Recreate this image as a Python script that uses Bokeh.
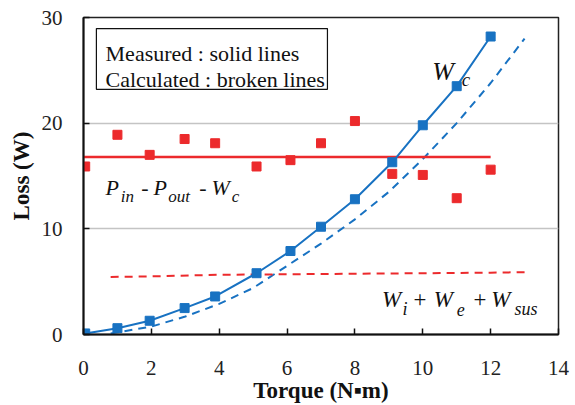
from bokeh.plotting import figure
from bokeh.models import Range1d, FixedTicker, Label, BoxAnnotation
from bokeh.embed import file_html
from bokeh.resources import INLINE

# Torque sweep (N·m)
torque = [0.05, 1.0, 1.95, 2.98, 3.88, 5.1, 6.1, 7.0, 8.0, 9.1, 10.0, 11.0, 12.0]
# Measured copper loss Wc (W)
wc_measured = [0.1, 0.6, 1.3, 2.5, 3.6, 5.8, 7.9, 10.2, 12.8, 16.3, 19.8, 23.5, 28.2]
# Measured Pin - Pout - Wc (W)
residual_measured = [15.9, 18.9, 17.0, 18.5, 18.1, 15.9, 16.5, 18.1, 20.2, 15.2, 15.1, 12.9, 15.6]

# Mean level of the residual loss
residual_mean_x = [0.0, 12.0]
residual_mean_y = [16.8, 16.8]

# Calculated Wc (broken line)
wc_calc_x = [0.8, 1.0, 2.0, 3.0, 4.0, 5.0, 6.0, 7.0, 8.0, 9.0, 10.0, 11.0, 12.0, 13.0]
wc_calc_y = [0.1, 0.2, 0.75, 1.7, 2.9, 4.4, 6.5, 8.6, 10.9, 13.5, 16.6, 20.0, 23.8, 28.0]

# Calculated Wi + We + Wsus (broken line)
iron_calc_x = [0.8, 2.0, 4.0, 6.0, 8.0, 10.0, 12.0, 13.0]
iron_calc_y = [5.45, 5.5, 5.65, 5.7, 5.75, 5.8, 5.85, 5.9]

x_ticks = [0, 2, 4, 6, 8, 10, 12, 14]
y_ticks = [0, 10, 20, 30]

BLUE = "#1872c2"
RED = "#ec2a2c"
SERIF = "'Liberation Serif', 'Times New Roman', 'DejaVu Serif', serif"

p = figure(width=575, height=405, output_backend="svg", toolbar_location=None,
           x_range=Range1d(0, 14), y_range=Range1d(0, 30),
           min_border_left=83, min_border_right=17, min_border_top=17, min_border_bottom=71)

p.background_fill_color = "white"
p.border_fill_color = "white"
p.outline_line_color = "#222222"
p.outline_line_width = 1.5

p.xgrid.visible = False
p.ygrid.grid_line_color = "#c4c4c4"
p.ygrid.grid_line_width = 1.5
p.ygrid.ticker = FixedTicker(ticks=y_ticks)

for ax, ticks in ((p.xaxis, x_ticks), (p.yaxis, y_ticks)):
    ax.ticker = FixedTicker(ticks=ticks)
    ax.axis_line_color = "#111111"
    ax.axis_line_width = 2
    ax.major_tick_line_color = "#111111"
    ax.major_tick_line_width = 1.5
    ax.major_tick_in = 6
    ax.major_tick_out = 0
    ax.minor_tick_line_color = None
    ax.major_label_text_font = SERIF
    ax.major_label_text_font_size = "21px"
    ax.major_label_text_color = "#222222"
    ax.axis_label_text_font = SERIF
    ax.axis_label_text_font_size = "23px"
    ax.axis_label_text_font_style = "bold"
    ax.axis_label_text_color = "#111111"

p.xaxis.axis_label = "Torque (N\u25aam)"
p.yaxis.axis_label = "Loss (W)"
p.xaxis.major_label_standoff = 26
p.xaxis.axis_label_standoff = 0
p.yaxis.major_label_standoff = 21
p.yaxis.axis_label_standoff = 5

# Calculated curves
p.line(wc_calc_x, wc_calc_y, line_color=BLUE, line_width=2, line_dash="8 6")
p.line(iron_calc_x, iron_calc_y, line_color=RED, line_width=2, line_dash="8 6")

# Measured curves
p.line(residual_mean_x, residual_mean_y, line_color=RED, line_width=2.5)
p.scatter(torque, residual_measured, marker="square", size=9, fill_color=RED, line_color=RED)
p.line(torque, wc_measured, line_color=BLUE, line_width=2)
p.scatter(torque, wc_measured, marker="square", size=9, fill_color=BLUE, line_color=BLUE)

# Key box
p.add_layout(BoxAnnotation(left=0.38, right=7.19, bottom=23.2, top=28.95,
                           fill_color="white", fill_alpha=1.0,
                           line_color="#111111", line_alpha=1.0, line_width=1.2))
for txt, yy in (("Measured : solid lines", 26.6), ("Calculated : broken lines", 24.15)):
    p.add_layout(Label(x=0.65, y=yy, text=txt, text_font=SERIF, text_font_size="22px",
                       text_color="#111111", text_baseline="alphabetic"))


def math_label(pieces, base_y, sub_y, size, sub_size):
    for x, txt, is_sub in pieces:
        p.add_layout(Label(x=x, y=sub_y if is_sub else base_y, text=txt,
                           text_font=SERIF, text_font_style="italic",
                           text_font_size=sub_size if is_sub else size,
                           text_color="#111111", text_baseline="alphabetic"))


# W_c
math_label([(10.28, "W", False), (11.15, "c", True)], 24.9, 24.1, "26px", "19px")

# P_in - P_out - W_c
math_label([(0.65, "P", False), (1.1, "in", True), (1.70, "-", False),
            (2.06, "P", False), (2.5, "out", True), (3.41, "-", False),
            (3.77, "W", False), (4.37, "c", True)], 13.9, 13.1, "22px", "17px")

# W_i + W_e + W_sus
math_label([(8.8, "W", False), (9.4, "i", True), (9.68, "+", False),
            (10.32, "W", False), (11.0, "e", True), (11.45, "+", False),
            (12.02, "W", False), (12.7, "sus", True)], 3.3, 2.4, "23px", "18px")

open("out.html", "w").write(file_html(p, INLINE))
